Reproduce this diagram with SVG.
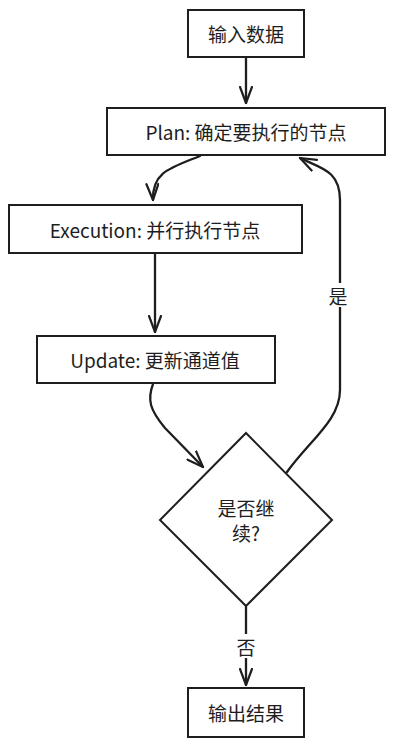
<svg xmlns="http://www.w3.org/2000/svg" width="395" height="746" viewBox="0 0 395 746">
<style>
.n{fill:#fff;stroke:#1e1e1e;stroke-width:2}
.t{font-family:"Noto Sans CJK SC","Noto Sans",sans-serif;font-size:19px;fill:#1e1e1e;text-anchor:middle;dominant-baseline:central}
.c{fill:none;stroke:#1e1e1e;stroke-width:2.3;stroke-linecap:round;marker-end:url(#a)}
.lb{fill:#fff}
</style>
<defs>
<marker id="a" viewBox="0 0 18 14" refX="17" refY="7" markerWidth="18" markerHeight="14" markerUnits="userSpaceOnUse" orient="auto">
<path d="M1,1 L17,7 L1,13" fill="none" stroke="#1e1e1e" stroke-width="2.2" stroke-linecap="round" stroke-linejoin="round"/>
</marker>
</defs>
<rect width="395" height="746" fill="#fff"/>
<g id="connectors">
<path class="c" d="M246 57 L246 103"/>
<path class="c" d="M200 156 C170 168,152 172,153 200"/>
<path class="c" d="M155 254 L155 332"/>
<path class="c" d="M153 384 C147 400,150 410,165 428 L203 467"/>
<path class="c" d="M287 472 C310 440,340 420,340 390 L340 200 C340 170,320 168,300 158"/>
<path class="c" d="M246 607 L246 685"/>
<rect class="lb" x="328" y="283" width="20" height="24"/>
<text class="t" x="338" y="295">是</text>
<rect class="lb" x="236" y="634" width="20" height="24"/>
<text class="t" x="246" y="646">否</text>
</g>
<g id="n1"><rect class="n" x="188" y="10" width="116" height="47"/><text class="t" x="246" y="33">输入数据</text></g>
<g id="n2"><rect class="n" x="107" y="108" width="278" height="47"/><text class="t" x="246" y="131">Plan: 确定要执行的节点</text></g>
<g id="n3"><rect class="n" x="9" y="205" width="293" height="48"/><text class="t" x="155" y="229">Execution: 并行执行节点</text></g>
<g id="n4"><rect class="n" x="37" y="336" width="238" height="47"/><text class="t" x="155" y="359">Update: 更新通道值</text></g>
<g id="n5"><polygon class="n" points="246,433 332,520 246,606 160,520"/><text class="t" x="246" y="507">是否继</text><text class="t" x="246" y="532">续?</text></g>
<g id="n6"><rect class="n" x="188" y="688" width="116" height="49"/><text class="t" x="246" y="712">输出结果</text></g>
</svg>
